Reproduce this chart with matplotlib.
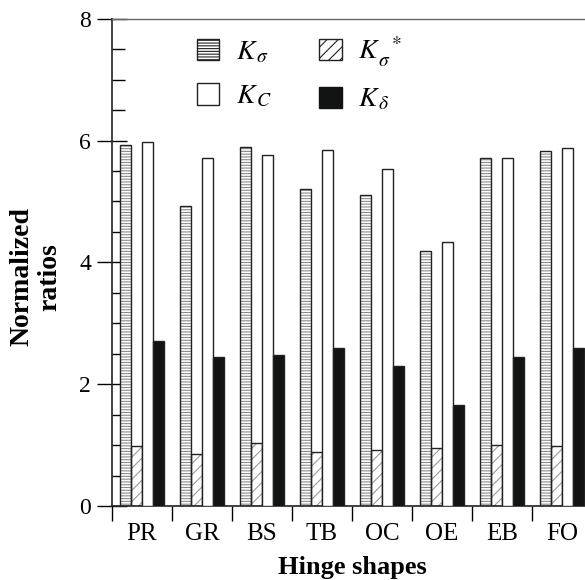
import numpy as np
import matplotlib
matplotlib.use("Agg")
import matplotlib.pyplot as plt
from matplotlib.patches import Patch
from matplotlib.ticker import MultipleLocator

plt.rcParams["font.family"] = "Liberation Serif"
plt.rcParams["mathtext.fontset"] = "stix"
plt.rcParams["hatch.linewidth"] = 0.8

shapes = ["PR", "GR", "BS", "TB", "OC", "OE", "EB", "FO"]
k_sigma = [5.92, 4.92, 5.89, 5.21, 5.11, 4.18, 5.72, 5.83]
k_sigma_star = [0.99, 0.86, 1.03, 0.88, 0.92, 0.95, 1.00, 0.99]
k_c = [5.98, 5.71, 5.76, 5.85, 5.54, 4.34, 5.72, 5.87]
k_delta = [2.71, 2.44, 2.48, 2.59, 2.30, 1.65, 2.45, 2.60]

series_labels = [r"$K_{\,\sigma}$", r"$K_{\,\sigma}^{\ \ *}$", r"$K_{\,C}$", r"$K_{\,\delta}$"]

fig = plt.figure(figsize=(5.85, 5.80), dpi=100)
ax = fig.add_axes([112 / 585, 74 / 580, 480 / 585, 487.3 / 580])

x = np.arange(len(shapes)) + 0.5
w = 0.18
offsets = [-0.27, -0.09, 0.09, 0.27]
gray = "#8a8a8a"

styles = [
    dict(face="white", hatch="------", hcol=gray),
    dict(face="white", hatch="///", hcol="#9a9a9a"),
    dict(face="white", hatch=None, hcol="black"),
    dict(face="#111412", hatch=None, hcol="black"),
]
data = [k_sigma, k_sigma_star, k_c, k_delta]

for vals, off, st in zip(data, offsets, styles):
    if st["hatch"]:
        ax.bar(x + off, vals, width=w, color=st["face"], hatch=st["hatch"],
               edgecolor=st["hcol"], linewidth=0, zorder=2)
        ax.bar(x + off, vals, width=w, fill=False, edgecolor="#222222",
               linewidth=1.0, zorder=3)
    else:
        ax.bar(x + off, vals, width=w, color=st["face"], edgecolor="#222222",
               linewidth=1.0, zorder=3)

ax.set_xlim(0, 8)
ax.set_ylim(0, 8)

ax.yaxis.set_major_locator(MultipleLocator(2))
ax.yaxis.set_minor_locator(MultipleLocator(0.5))
ax.tick_params(axis="y", which="major", direction="inout", length=22, width=1.0,
               labelsize=17, pad=4)
ax.tick_params(axis="y", which="minor", direction="in", length=9, width=1.0)

ax.set_xticks(np.arange(0, 9))
ax.set_xticklabels([])
ax.set_xticks(x, minor=True)
ax.set_xticklabels(shapes, minor=True)
ax.tick_params(axis="x", which="major", direction="out", length=11, width=1.0)
ax.tick_params(axis="x", which="minor", length=0, labelsize=18, pad=12)

ax.spines["right"].set_visible(False)
ax.spines["top"].set_color("#6a6a6a")
ax.spines["top"].set_linewidth(1.0)
for s in ("left", "bottom"):
    ax.spines[s].set_linewidth(1.2)
    ax.spines[s].set_color("#222222")

ax.set_xlabel("Hinge shapes", fontsize=19, fontweight="bold", labelpad=8)
ax.set_ylabel("Normalized\nratios", fontsize=20, fontweight="bold",
              linespacing=1.15)
ax.yaxis.set_label_coords(-0.103, 0.47)

handles = [
    Patch(facecolor="white", edgecolor="#222222", hatch="------", label=series_labels[0]),
    Patch(facecolor="white", edgecolor="#222222", label=series_labels[2]),
    Patch(facecolor="white", edgecolor="#222222", hatch="///", label=series_labels[1]),
    Patch(facecolor="#111412", edgecolor="#111412", label=series_labels[3]),
]
leg = ax.legend(handles=handles, ncol=2, loc="upper left",
                bbox_to_anchor=(0.125, 1.019), frameon=False, fontsize=20,
                handlelength=0.8, handleheight=0.8, handletextpad=0.6,
                columnspacing=1.7, labelspacing=0.65)

fig.savefig("out.png", dpi=100)
